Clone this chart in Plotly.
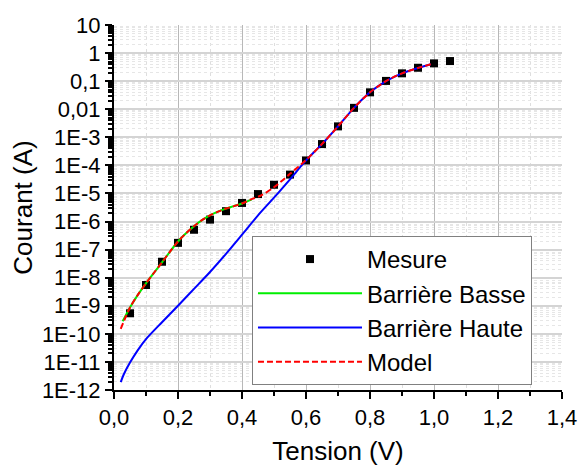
import plotly.graph_objects as go

# Mesure (V, A)
mesure_v = [0.05, 0.10, 0.15, 0.20, 0.25, 0.30, 0.35, 0.40, 0.45, 0.50, 0.55,
            0.60, 0.65, 0.70, 0.75, 0.80, 0.85, 0.90, 0.95, 1.00, 1.05]
mesure_i = [5.4e-10, 5.5e-9, 3.7e-8, 1.74e-7, 5.1e-7, 1.17e-6, 2.34e-6, 4.6e-6,
            9.5e-6, 2.04e-5, 4.7e-5, 1.5e-4, 5.75e-4, 2.45e-3, 0.0112, 0.040,
            0.102, 0.19, 0.30, 0.43, 0.52]

# Barrière Basse
basse_v = [0.027, 0.05, 0.075, 0.10, 0.125, 0.15, 0.175, 0.20, 0.225, 0.25,
           0.275, 0.30, 0.325, 0.35, 0.375, 0.40, 0.43]
basse_i = [2.8e-10, 8.7e-10, 2.5e-9, 6.3e-9, 1.5e-8, 3.5e-8, 8.5e-8, 1.95e-7,
           3.8e-7, 6.8e-7, 1.12e-6, 1.66e-6, 2.24e-6, 2.9e-6, 3.55e-6, 4.4e-6, 6.0e-6]

# Barrière Haute
haute_v = [0.021, 0.03, 0.05, 0.075, 0.10, 0.15, 0.20, 0.25, 0.30, 0.35, 0.40,
           0.45, 0.50, 0.55, 0.60, 0.65, 0.70, 0.75, 0.80, 0.85, 0.90, 0.95, 0.99]
haute_i = [1.9e-12, 3.5e-12, 9.5e-12, 2.7e-11, 6.5e-11, 2.6e-10, 1.0e-9, 4.0e-9,
           1.6e-8, 7.1e-8, 3.4e-7, 1.66e-6, 7.1e-6, 3.2e-5, 1.5e-4, 5.75e-4,
           2.45e-3, 0.0112, 0.040, 0.10, 0.19, 0.295, 0.40]

# Model
model_v = [0.021, 0.05, 0.075, 0.10, 0.125, 0.15, 0.175, 0.20, 0.225, 0.25,
           0.275, 0.30, 0.325, 0.35, 0.375, 0.40, 0.43, 0.46, 0.50, 0.55, 0.60,
           0.65, 0.70, 0.75, 0.80, 0.85, 0.90, 0.95, 0.99]
model_i = [1.5e-10, 8.7e-10, 2.5e-9, 6.3e-9, 1.5e-8, 3.5e-8, 8.5e-8, 1.95e-7,
           3.8e-7, 6.8e-7, 1.12e-6, 1.66e-6, 2.24e-6, 2.9e-6, 3.55e-6, 4.4e-6,
           6.3e-6, 8.5e-6, 1.66e-5, 5.0e-5, 1.55e-4, 5.75e-4, 2.45e-3, 0.0112,
           0.040, 0.10, 0.19, 0.295, 0.40]

y_tickvals = [10, 1, 0.1, 0.01, 1e-3, 1e-4, 1e-5, 1e-6, 1e-7, 1e-8, 1e-9, 1e-10, 1e-11, 1e-12]
y_ticktext = ["10", "1", "0,1", "0,01", "1E-3", "1E-4", "1E-5", "1E-6", "1E-7",
              "1E-8", "1E-9", "1E-10", "1E-11", "1E-12"]
x_tickvals = [0.0, 0.2, 0.4, 0.6, 0.8, 1.0, 1.2, 1.4]
x_ticktext = ["0,0", "0,2", "0,4", "0,6", "0,8", "1,0", "1,2", "1,4"]

FONT = "Liberation Sans, Arial, sans-serif"

fig = go.Figure()
fig.add_trace(go.Scatter(
    x=mesure_v, y=mesure_i, name="Mesure", mode="markers",
    marker=dict(symbol="square", size=8, color="black"),
))
fig.add_trace(go.Scatter(
    x=basse_v, y=basse_i, name="Barrière Basse", mode="lines",
    line=dict(color="#00ee00", width=2, shape="spline", smoothing=0.8),
))
fig.add_trace(go.Scatter(
    x=haute_v, y=haute_i, name="Barrière Haute", mode="lines",
    line=dict(color="#0000ff", width=2, shape="spline", smoothing=0.8),
))
fig.add_trace(go.Scatter(
    x=model_v, y=model_i, name="Model", mode="lines",
    line=dict(color="#ff0000", width=2, dash="6px,3px", shape="spline", smoothing=0.8),
))

fig.update_layout(
    width=579, height=466,
    margin=dict(l=114, r=17, t=25, b=76),
    paper_bgcolor="white",
    plot_bgcolor="white",
    font=dict(family=FONT, color="black", size=22),
    showlegend=True,
    legend=dict(
        x=0.308, y=0.422, xanchor="left", yanchor="top",
        bgcolor="white", bordercolor="#808080", borderwidth=1,
        font=dict(size=24), itemwidth=104, tracegroupgap=0,
    ),
)

fig.update_xaxes(
    range=[0, 1.4], automargin=False,
    tickvals=x_tickvals, ticktext=x_ticktext,
    ticks="outside", ticklen=7, tickwidth=2, tickcolor="black",
    showline=True, linecolor="black", linewidth=2,
    showgrid=True, gridcolor="#b8b8b8", gridwidth=1,
    zeroline=False,
    minor=dict(dtick=0.1, tick0=0, ticks="outside", ticklen=4, tickwidth=2,
               tickcolor="black", showgrid=True, gridcolor="#dedede",
               griddash="dot", gridwidth=1),
    title=dict(text="Tension (V)", font=dict(size=26), standoff=14),
    tickfont=dict(size=22),
)

fig.update_yaxes(
    type="log", range=[-12, 1], automargin=False,
    tickvals=y_tickvals, ticktext=y_ticktext,
    ticks="outside", ticklen=7, tickwidth=2, tickcolor="black",
    showline=True, linecolor="black", linewidth=2,
    showgrid=True, gridcolor="#d4d4d4", gridwidth=2,
    zeroline=False,
    minor=dict(dtick="D1", ticks="outside", ticklen=4, tickwidth=1.5,
               tickcolor="black", showgrid=True, gridcolor="#e6e6e6",
               griddash="dot", gridwidth=1),
    title=dict(text="Courant (A)", font=dict(size=26), standoff=2),
    tickfont=dict(size=22),
)

# drop the default page margin so the figure fills the window exactly
fig.write_html(
    "out.html",
    config={"displayModeBar": False},
    post_script="document.body.style.margin='0';document.body.style.overflow='hidden';",
)
